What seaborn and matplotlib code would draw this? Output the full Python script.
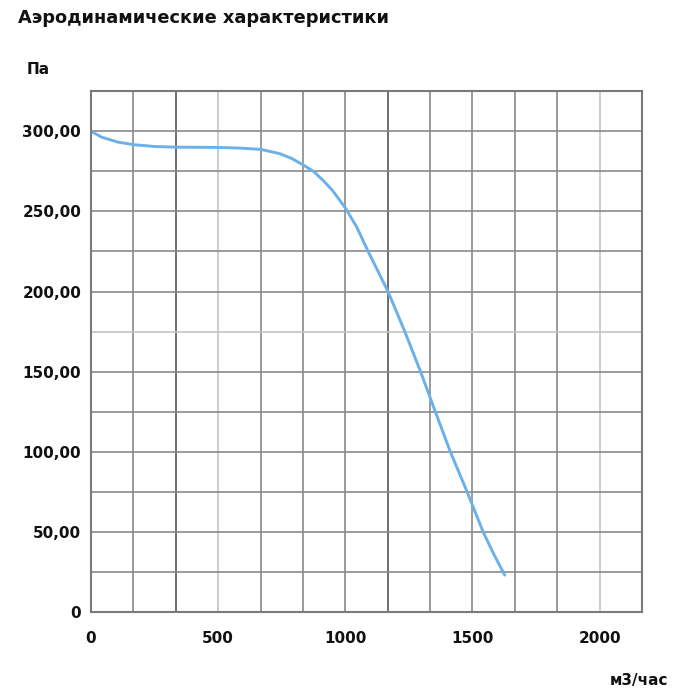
import numpy as np
import pandas as pd
import matplotlib
matplotlib.use("Agg")
import matplotlib.pyplot as plt
import seaborn as sns

# расход, м3/час  /  давление, Па
flow = [0, 42, 107, 170, 251, 330, 420, 507, 585, 668, 743, 790, 834, 875,
        913, 950, 978, 1002, 1044, 1090, 1168, 1234, 1296, 1354, 1413, 1479,
        1542, 1581, 1627]
pressure = [300, 296.3, 293.2, 291.6, 290.5, 290.1, 290, 289.9, 289.5, 288.7,
            286, 283, 279, 275, 269.3, 263, 257, 251.7, 240.5, 225, 200, 175,
            150, 125, 100, 75, 50, 37, 23]

x_labels = [0, 500, 1000, 1500, 2000]
y_labels = [0, 50, 100, 150, 200, 250, 300]

x_max = 2166.67
y_max = 325

if __name__ == "__main__":
    sns.set_style("white")
    plt.rcParams["font.family"] = ["DejaVu Sans"]

    df = pd.DataFrame({"flow": flow, "pressure": pressure})

    fig = plt.figure(figsize=(6.84, 7.0), dpi=100)
    ax = fig.add_axes([0.133, 0.1257, 0.8056, 0.744])

    sns.lineplot(data=df, x="flow", y="pressure", ax=ax, color="#6cb0ea",
                 linewidth=2.1, solid_joinstyle="round", solid_capstyle="round")

    ax.set_xlim(0, x_max)
    ax.set_ylim(0, y_max)
    ax.xaxis.remove_overlapping_locs = False
    ax.yaxis.remove_overlapping_locs = False

    # сетка
    xgrid = np.arange(0, x_max + 1, x_max / 13)
    ygrid = np.arange(0, y_max + 1, 25)
    ax.set_xticks(xgrid)
    ax.set_xticklabels([])
    ax.set_yticks(ygrid)
    ax.set_yticklabels([])
    ax.grid(True, color="#8a8a8a", linewidth=1.2)
    for i, gl in enumerate(ax.get_xgridlines()):
        if i in (2, 7):
            gl.set_color("#555555")
        elif i in (3, 12):
            gl.set_color("#c4c4c4")
    for i, gl in enumerate(ax.get_ygridlines()):
        if i == 7:
            gl.set_color("#c4c4c4")
    ax.set_axisbelow(True)

    ax.tick_params(axis="x", which="major", length=5, color="#8a8a8a", width=1)
    ax.tick_params(axis="y", which="major", length=0)

    ax.set_xticks(x_labels, minor=True)
    ax.set_xticklabels([str(v) for v in x_labels], minor=True)
    ax.set_yticks(y_labels, minor=True)
    ax.set_yticklabels(["0" if v == 0 else f"{v},00" for v in y_labels], minor=True)
    ax.tick_params(axis="x", which="minor", length=0, pad=14, labelsize=11)
    ax.tick_params(axis="y", which="minor", length=5, color="#8a8a8a", width=1,
                   pad=2, labelsize=11)
    for lab in ax.get_xticklabels(minor=True) + ax.get_yticklabels(minor=True):
        lab.set_fontweight("bold")
        lab.set_color("#111111")

    for sp in ax.spines.values():
        sp.set_color("#7a7a7a")
        sp.set_linewidth(1.5)

    ax.set_xlabel("")
    ax.set_ylabel("")

    fig.text(0.026, 0.974, "Аэродинамические характеристики", fontsize=12.8,
             fontweight="bold", color="#111111", ha="left", va="center")
    fig.text(0.039, 0.9, "Па", fontsize=11, fontweight="bold", color="#111111",
             ha="left", va="center")
    fig.text(0.977, 0.028, "м3/час", fontsize=11, fontweight="bold", color="#111111",
             ha="right", va="center")

    fig.savefig("out.png", dpi=100)
